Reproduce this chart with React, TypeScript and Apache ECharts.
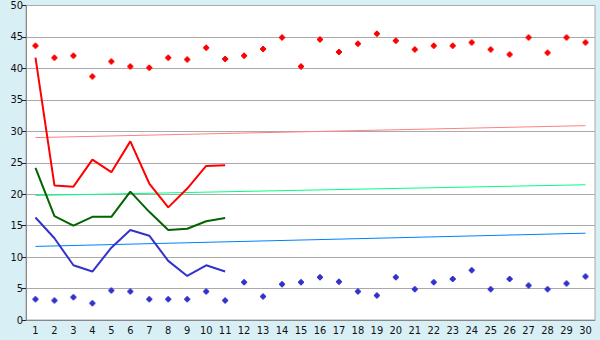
import React, { useEffect, useRef } from "react";
import * as echarts from "echarts";

const categories = Array.from({ length: 30 }, (_, i) => String(i + 1));

const redScatter = [43.6, 41.7, 42.0, 38.7, 41.1, 40.3, 40.1, 41.7, 41.4, 43.3, 41.5, 42.0, 43.1, 44.9, 40.3, 44.6, 42.6, 43.9, 45.5, 44.4, 43.0, 43.6, 43.6, 44.1, 43.0, 42.2, 44.9, 42.5, 44.9, 44.1];
const blueScatter = [3.3, 3.1, 3.6, 2.65, 4.7, 4.55, 3.3, 3.3, 3.3, 4.55, 3.1, 6.0, 3.75, 5.7, 6.0, 6.8, 6.1, 4.55, 3.9, 6.8, 4.9, 6.0, 6.5, 7.9, 4.9, 6.5, 5.5, 4.9, 5.8, 6.9];

const redLine = [41.7, 21.4, 21.2, 25.5, 23.5, 28.4, 21.7, 17.9, 20.9, 24.5, 24.6];
const greenLine = [24.2, 16.5, 15.0, 16.4, 16.4, 20.4, 17.2, 14.3, 14.5, 15.7, 16.2];
const blueLine = [16.3, 13.0, 8.7, 7.7, 11.5, 14.3, 13.4, 9.4, 7.0, 8.7, 7.7];

const pinkTrend = [29.0, 30.9];
const greenTrend = [19.8, 21.5];
const blueTrend = [11.7, 13.8];

const yTicks = { min: 0, max: 50, interval: 5 };

const markerPath = "path://M2,0 H4 V1 H5 V2 H6 V4 H5 V5 H4 V6 H2 V5 H1 V4 H0 V2 H1 V1 H2 Z";
const font = "'DejaVu Sans Condensed', 'DejaVu Sans', sans-serif";

export default function App() {
  const ref = useRef<HTMLDivElement>(null);
  useEffect(() => {
    document.body.style.margin = "0";
    const chart = echarts.init(ref.current!, null, { renderer: "svg" });
    const trend = (vals: number[], color: string) => ({
      type: "line",
      data: [[0, vals[0]], [categories.length - 1, vals[1]]],
      symbol: "none",
      lineStyle: { color, width: 1 },
      z: 2,
    });
    chart.setOption({
      animation: false,
      backgroundColor: "#d9eff6",
      grid: {
        left: 26,
        right: 5,
        top: 5,
        bottom: 20,
        show: true,
        backgroundColor: "#ffffff",
        borderColor: "#aaaaaa",
        borderWidth: 1,
      },
      xAxis: {
        type: "category",
        data: categories,
        boundaryGap: true,
        axisLine: { lineStyle: { color: "#888888" } },
        axisTick: { alignWithLabel: true, length: 4, lineStyle: { color: "#222" } },
        axisLabel: { color: "#111", fontFamily: font, fontSize: 11, margin: 5, interval: 0 },
        splitLine: { show: false },
      },
      yAxis: {
        type: "value",
        min: yTicks.min,
        max: yTicks.max,
        interval: yTicks.interval,
        axisLine: { show: true, lineStyle: { color: "#888888" } },
        axisTick: { show: true, length: 4, lineStyle: { color: "#222" } },
        axisLabel: { color: "#111", fontFamily: font, fontSize: 11, margin: 3 },
        splitLine: { lineStyle: { color: "#aaaaaa", width: 1 } },
      },
      series: [
        trend(pinkTrend, "#ff8080"),
        trend(greenTrend, "#00ff80"),
        trend(blueTrend, "#0080ff"),
        {
          type: "line",
          data: redLine,
          symbol: "none",
          lineStyle: { color: "#ff0000", width: 2 },
          z: 3,
        },
        {
          type: "line",
          data: greenLine,
          symbol: "none",
          lineStyle: { color: "#006400", width: 2 },
          z: 3,
        },
        {
          type: "line",
          data: blueLine,
          symbol: "none",
          lineStyle: { color: "#3333cc", width: 2 },
          z: 3,
        },
        {
          type: "scatter",
          data: redScatter,
          symbol: markerPath,
          symbolSize: 6,
          itemStyle: { color: "#ff0000", opacity: 1 },
          z: 4,
        },
        {
          type: "scatter",
          data: blueScatter,
          symbol: markerPath,
          symbolSize: 6,
          itemStyle: { color: "#3333cc", opacity: 1 },
          z: 4,
        },
      ],
    });
    return () => chart.dispose();
  }, []);
  return <div ref={ref} style={{ position: "fixed", left: 0, top: 0, width: 600, height: 340 }} />;
}
